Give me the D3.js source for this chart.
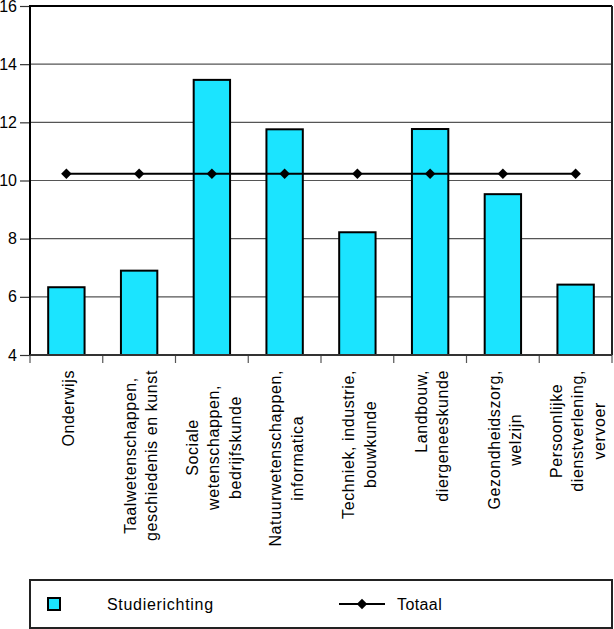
<!DOCTYPE html>
<html>
<head>
<meta charset="utf-8">
<script src="https://cdn.jsdelivr.net/npm/d3@7"></script>
<style>
  html, body { margin: 0; padding: 0; background: #fff; }
  svg { display: block; }
  text { font-family: "Liberation Sans", Arial, sans-serif; fill: #000; }
</style>
</head>
<body>
<script>
const categories = [
  "Onderwijs",
  "Taalwetenschappen, geschiedenis en kunst",
  "Sociale wetenschappen, bedrijfskunde",
  "Natuurwetenschappen, informatica",
  "Techniek, industrie, bouwkunde",
  "Landbouw, diergeneeskunde",
  "Gezondheidszorg, welzijn",
  "Persoonlijke dienstverlening, vervoer"
];
const categoryLines = [
  ["Onderwijs"],
  ["Taalwetenschappen,", "geschiedenis en kunst"],
  ["Sociale", "wetenschappen,", "bedrijfskunde"],
  ["Natuurwetenschappen,", "informatica"],
  ["Techniek, industrie,", "bouwkunde"],
  ["Landbouw,", "diergeneeskunde"],
  ["Gezondheidszorg,", "welzijn"],
  ["Persoonlijke", "dienstverlening,", "vervoer"]
];
const studierichting = [6.33, 6.90, 13.46, 11.76, 8.22, 11.77, 9.53, 6.42];
const totaal = [10.23, 10.23, 10.23, 10.23, 10.23, 10.23, 10.23, 10.23];
const yTicks = [4, 6, 8, 10, 12, 14, 16];
const seriesNames = ["Studierichting", "Totaal"];

(function () {
const W = 614, H = 629;
const pLeft = 30, pRight = 612, pTop = 6, pBottom = 355;
const barColor = "#1be4ff";

const svg = d3.select("body").append("svg").attr("width", W).attr("height", H);

const x = d3.scaleBand().domain(categories).range([pLeft, pRight]).padding(0);
const y = d3.scaleLinear().domain([4, 16]).range([pBottom, pTop]);

// gridlines
svg.append("g").selectAll("line").data(yTicks.filter(d => d > 4 && d < 16)).join("line")
  .attr("x1", pLeft).attr("x2", pRight)
  .attr("y1", d => y(d)).attr("y2", d => y(d))
  .attr("stroke", "#555").attr("stroke-width", 1.2);

// y axis
const yAxis = d3.axisLeft(y).tickValues(yTicks).tickSize(10).tickPadding(3).tickFormat(d3.format("d"));
const gy = svg.append("g").attr("transform", `translate(${pLeft},0)`).call(yAxis);
gy.select(".domain").remove();
gy.selectAll(".tick line").attr("stroke", "#333").attr("stroke-width", 1.2);
gy.selectAll(".tick text").attr("font-size", 16).attr("font-family", "Liberation Sans, Arial, sans-serif").attr("fill", "#000");

// x ticks at band boundaries
const bounds = categories.map(c => x(c)).concat([pRight]);
svg.append("g").selectAll("line").data(bounds).join("line")
  .attr("x1", d => d).attr("x2", d => d)
  .attr("y1", pBottom).attr("y2", pBottom + 8)
  .attr("stroke", "#555").attr("stroke-width", 1.2);

// bars
const bw = x.bandwidth() * 0.5;
svg.append("g").selectAll("rect").data(studierichting).join("rect")
  .attr("x", (d, i) => x(categories[i]) + (x.bandwidth() - bw) / 2)
  .attr("y", d => y(d))
  .attr("width", bw)
  .attr("height", d => y(4) - y(d))
  .attr("fill", barColor).attr("stroke", "#000").attr("stroke-width", 2);

// frame
svg.append("line").attr("x1", pLeft).attr("x2", pRight).attr("y1", pTop).attr("y2", pTop)
  .attr("stroke", "#000").attr("stroke-width", 2);
svg.append("line").attr("x1", pRight).attr("x2", pRight).attr("y1", pTop).attr("y2", pBottom)
  .attr("stroke", "#222").attr("stroke-width", 2);
svg.append("line").attr("x1", pLeft).attr("x2", pLeft).attr("y1", pTop - 1).attr("y2", pBottom)
  .attr("stroke", "#000").attr("stroke-width", 2);
svg.append("line").attr("x1", pLeft).attr("x2", pRight).attr("y1", pBottom).attr("y2", pBottom)
  .attr("stroke", "#333").attr("stroke-width", 2);

// Totaal line
const cx = i => x(categories[i]) + x.bandwidth() / 2;
const line = d3.line().x((d, i) => cx(i)).y(d => y(d));
svg.append("path").datum(totaal).attr("d", line)
  .attr("fill", "none").attr("stroke", "#000").attr("stroke-width", 2);
const diamond = d3.symbol().type(d3.symbolDiamond2).size(70);
svg.append("g").selectAll("path").data(totaal).join("path")
  .attr("transform", (d, i) => `translate(${cx(i)},${y(d)})`)
  .attr("d", diamond).attr("fill", "#000");

// category labels (rotated)
const labelTop = 370, lineGap = 21.5;
const blockShift = [0, 0, 15, 0, 0, 0, 0, 0];
const topAligned = [false, false, false, false, false, true, false, false];
categoryLines.forEach((lines, i) => {
  const g = svg.append("g").attr("transform", `translate(${cx(i) + 2},${labelTop}) rotate(-90)`);
  const texts = g.selectAll("text").data(lines).join("text")
    .attr("font-size", 16).attr("letter-spacing", 0.6)
    .attr("y", (d, j) => (j - (lines.length - 1) / 2) * lineGap + 5.5)
    .text(d => d);
  const lens = [];
  texts.each(function () { lens.push(this.getComputedTextLength()); });
  const maxW = d3.max(lens);
  if (topAligned[i]) {
    texts.attr("text-anchor", "end").attr("x", 0);
  } else {
    texts.attr("text-anchor", "middle").attr("x", -(maxW / 2 + blockShift[i]));
  }
});

// legend
svg.append("rect").attr("x", 30).attr("y", 580).attr("width", 582).attr("height", 48)
  .attr("fill", "none").attr("stroke", "#222").attr("stroke-width", 2);
svg.append("rect").attr("x", 48).attr("y", 598).attr("width", 12).attr("height", 12)
  .attr("fill", barColor).attr("stroke", "#000").attr("stroke-width", 2);
svg.append("text").attr("x", 107).attr("y", 610).attr("font-size", 16).attr("letter-spacing", 0.7)
  .text(seriesNames[0]);
svg.append("line").attr("x1", 339).attr("x2", 385).attr("y1", 604).attr("y2", 604)
  .attr("stroke", "#000").attr("stroke-width", 2);
svg.append("path").attr("transform", "translate(362,604)").attr("d", diamond).attr("fill", "#000");
svg.append("text").attr("x", 397).attr("y", 610).attr("font-size", 16).attr("letter-spacing", 0.4)
  .text(seriesNames[1]);
})();
</script>
</body>
</html>
